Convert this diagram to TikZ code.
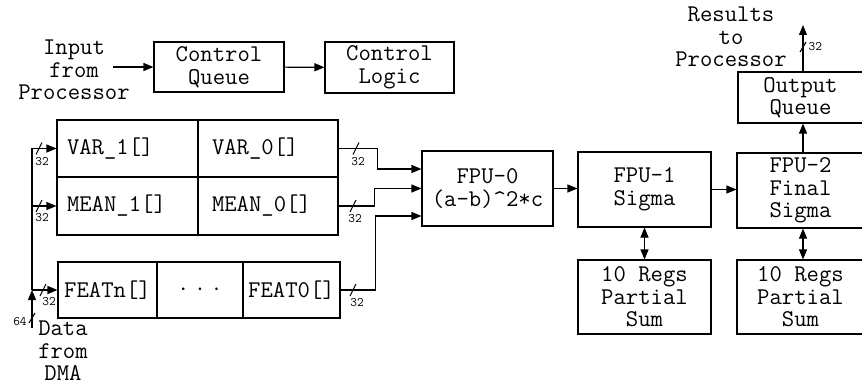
\documentclass[tikz,border=0pt]{standalone}
\usepackage{fontspec}
\usetikzlibrary{arrows.meta, positioning}

\begin{document}
\begin{tikzpicture}[x=1pt, y=-1pt, >={Triangle[length=10pt,width=8pt]}, line width=1.1pt,
  blk/.style={draw, rectangle, inner sep=0pt, align=center, font=\ttfamily\fontsize{24}{22.5}\selectfont},
  lbl/.style={align=center, inner sep=0pt, font=\ttfamily\fontsize{24}{22.5}\selectfont},
  wlbl/.style={inner sep=0pt, font=\ttfamily\fontsize{13}{13}\selectfont}]
  \useasboundingbox (0,0) rectangle (862,385);

  % Control path
  \node[lbl] (inp) at (74,70) {Input\\from\\Processor};
  \coordinate (inpend) at (113,67);
  \node[blk, minimum width=130pt, minimum height=50pt] (cq) at (219,67) {Control\\Queue};
  \node[blk, minimum width=129pt, minimum height=51pt] (cl) at (389.5,67.5) {Control\\Logic};
  \draw[->] (inpend) -- (cq);
  \draw[->] (cq) -- (cl);

  % Buffers
  \node[blk, minimum width=141pt, minimum height=57pt, text width=121pt, align=left] (var1) at (127.5,148.5) {VAR\textunderscore 1[]};
  \node[blk, minimum width=140pt, minimum height=57pt, text width=112pt, align=left] (var0) at (268,148.5) {VAR\textunderscore 0[]};
  \node[blk, minimum width=141pt, minimum height=58pt, text width=121pt, align=left] (mean1) at (127.5,206) {MEAN\textunderscore 1[]};
  \node[blk, minimum width=140pt, minimum height=58pt, text width=112pt, align=left] (mean0) at (268,206) {MEAN\textunderscore 0[]};
  \node[blk, minimum width=99pt, minimum height=56pt] (featn) at (107.5,290) {FEATn[]};
  \node[blk, minimum width=86pt, minimum height=56pt, font=\fontsize{42}{42}\selectfont] (featd) at (200,290) {$\cdot\,\cdot\,\cdot$};
  \node[blk, minimum width=97pt, minimum height=56pt] (feat0) at (291.5,290) {FEAT0[]};

  % FPU chain
  \node[blk, minimum width=131pt, minimum height=75pt] (fpu0) at (487.5,188.5) {FPU-0\\(a-b)\textasciicircum 2*c};
  \node[blk, minimum width=133pt, minimum height=75pt] (fpu1) at (644.5,189.5) {FPU-1\\Sigma};
  \node[blk, minimum width=127pt, minimum height=75pt] (fpu2) at (800.5,190.5) {FPU-2\\Final\\Sigma};
  \node[blk, minimum width=133pt, minimum height=74pt] (rg1) at (644.5,297) {10 Regs\\Partial\\Sum};
  \node[blk, minimum width=127pt, minimum height=74pt] (rg2) at (800.5,297) {10 Regs\\Partial\\Sum};
  \node[blk, minimum width=125pt, minimum height=51pt] (oq) at (800.5,97.5) {Output\\Queue};
  \node[lbl] (res) at (731,37) {Results\\to\\Processor};
  \coordinate (resend) at (803,25);

  \draw[->] (fpu0.east) -- (fpu0.east -| fpu1.west);
  \draw[->] (fpu1.east) -- (fpu1.east -| fpu2.west);
  \draw[<->] (fpu1) -- (rg1);
  \draw[<->] ([xshift=2.5pt]fpu2.south) -- ([xshift=2.5pt]rg2.north);
  \draw[->] ([xshift=2.5pt]fpu2.north) -- ([xshift=2.5pt]oq.south);
  \draw[->] ([xshift=2.5pt]oq.north) -- (resend);
  \draw (803,47) ++(-3,5) -- ++(6,-10);
  \node[wlbl, anchor=west] (w7) at (808,47) {32};

  % Data from DMA
  \node[lbl] (dmal) at (63,351) {Data\\from\\DMA};
  \coordinate (dma) at (32,328);
  \coordinate (bus) at (32,290);
  \draw[->] (dma) -- (bus);
  \draw[->] (bus) |- (var1.west);
  \draw[->] (bus |- mean1.west) -- (mean1.west);
  \draw[->] (bus) -- (featn.west);
  \draw (32,318) ++(-3,5) -- ++(6,-10);
  \node[wlbl] (w0) at (20,322) {64};
  \draw (39,148.5) ++(-3,6) -- ++(6,-12);
  \node[wlbl] (w1) at (42,162) {32};
  \draw (39,206) ++(-3,6) -- ++(6,-12);
  \node[wlbl] (w2) at (42,218) {32};
  \draw (43,290) ++(-3,6) -- ++(6,-12);
  \node[wlbl] (w3) at (49,302) {32};

  % Operands into FPU-0
  \draw[->] (var0.east) -- ++(39,0) |- ([yshift=19.5pt]fpu0.west);
  \draw[->] (mean0.east) -- ++(36,0) |- (fpu0.west);
  \draw[->] (feat0.east) -- ++(35,0) |- ([yshift=-27.5pt]fpu0.west);
  \draw (356,148.5) ++(-3,6) -- ++(6,-12);
  \node[wlbl] (w4) at (358,162) {32};
  \draw (353,206) ++(-3,6) -- ++(6,-12);
  \node[wlbl] (w5) at (355,219) {32};
  \draw (353,290) ++(-3,6) -- ++(6,-12);
  \node[wlbl] (w6) at (357,303) {32};
\end{tikzpicture}
\end{document}
